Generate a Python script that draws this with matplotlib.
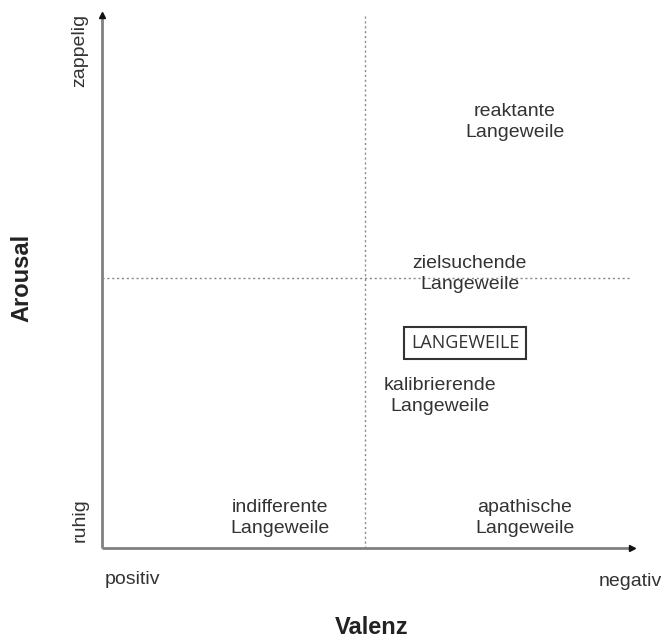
import matplotlib
matplotlib.use("Agg")
import matplotlib.pyplot as plt

plt.rcParams['font.family'] = ['Liberation Sans', 'DejaVu Sans']

# boredom types in the valence / arousal plane
labels = ["reaktante\nLangeweile", "zielsuchende\nLangeweile",
          "kalibrierende\nLangeweile", "indifferente\nLangeweile",
          "apathische\nLangeweile"]
valenz = [0.779, 0.694, 0.638, 0.336, 0.798]
arousal = [0.80, 0.514, 0.285, 0.056, 0.056]
center_label = "LANGEWEILE"
center_pos = (0.685, 0.385)

x_ends = ["positiv", "negativ"]
y_ends = ["ruhig", "zappelig"]

fig = plt.figure(figsize=(6.64, 6.41), dpi=100)
ax = fig.add_axes([102/664, 93/641, 530/664, 533/641])
ax.set_xlim(0, 1)
ax.set_ylim(0, 1)
ax.axis('off')

grey = '#808080'
txt = '#333333'

# axes with small black arrow heads
ax.plot([0, 0.995], [0, 0], color=grey, lw=2, clip_on=False, solid_capstyle='butt')
ax.plot([0, 0], [0, 0.995], color=grey, lw=2, clip_on=False, solid_capstyle='butt')
ax.plot([1.0], [0], marker='>', color='#111111', markersize=4.5, clip_on=False)
ax.plot([0], [1.0], marker='^', color='#111111', markersize=4.5, clip_on=False)

# quadrant dividers
ax.plot([0.496, 0.496], [0, 1.0], ls=(0, (1.5, 2)), color='#888888', lw=1)
ax.plot([0, 1.0], [0.507, 0.507], ls=(0, (1.5, 2)), color='#888888', lw=1)

for lab, vx, vy in zip(labels, valenz, arousal):
    ax.text(vx, vy, lab, ha='center', va='center', fontsize=14,
            color=txt, linespacing=1.3)

ax.text(center_pos[0], center_pos[1], center_label, ha='center', va='center',
        fontsize=13, color=txt, family=['Open Sans', 'DejaVu Sans'],
        bbox=dict(boxstyle='square,pad=0.4', fc='white', ec='#333333', lw=1.5))

# end labels
fig.text(105/664, 1 - 580/641, x_ends[0], ha='left', va='center', fontsize=14, color=txt)
fig.text(662/664, 1 - 581/641, x_ends[1], ha='right', va='center', fontsize=14, color=txt)
fig.text(80/664, 1 - 520/641, y_ends[0], ha='center', va='center', rotation=90, fontsize=14, color=txt)
fig.text(80/664, 1 - 50/641, y_ends[1], ha='center', va='center', rotation=90, fontsize=14, color=txt)

fig.text(372/664, 1 - 627/641, "Valenz", ha='center', va='center', fontsize=17,
         fontweight='bold', color='#222222')
fig.text(22/664, 1 - 278/641, "Arousal", ha='center', va='center', rotation=90,
         fontsize=17, fontweight='bold', color='#222222')

fig.savefig("out.png", dpi=100)
